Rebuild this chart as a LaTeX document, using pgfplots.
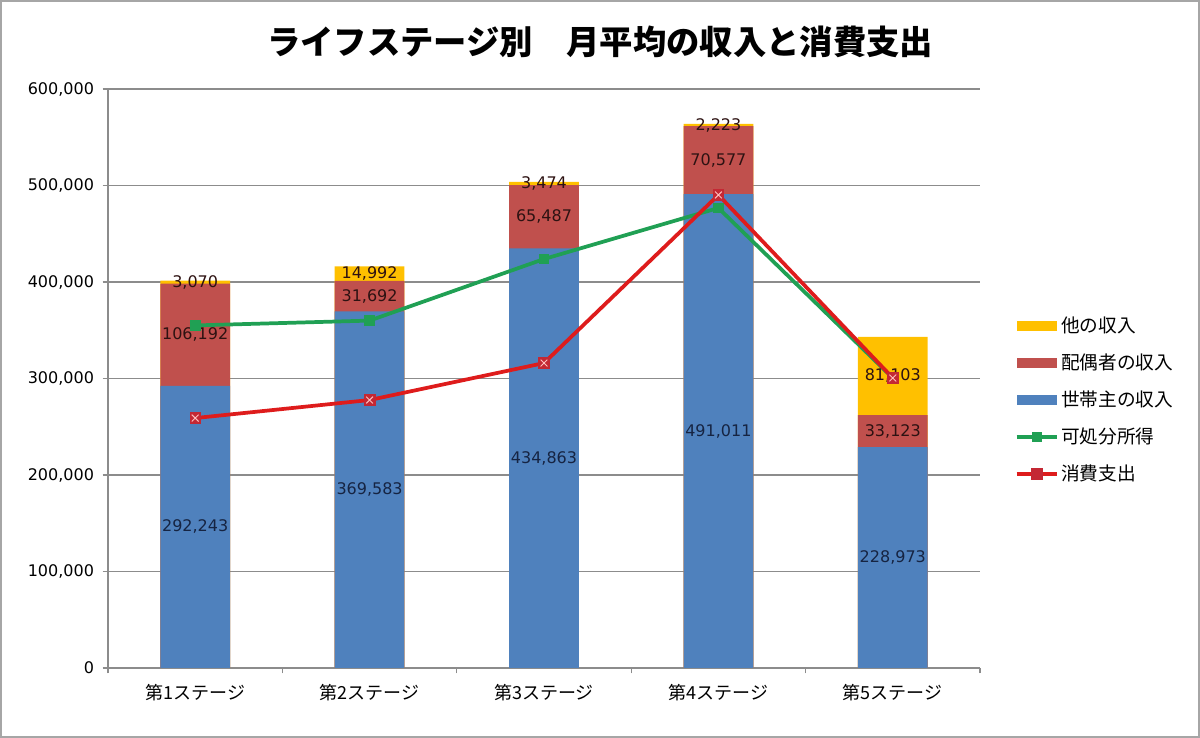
\documentclass[border=0pt]{standalone}
\usepackage{fontspec}
\setmainfont{DejaVu Sans}
\newfontfamily\jp{Noto Sans CJK JP}
\usepackage{pgfplots}
\usepackage{pgfplotstable}
\pgfplotsset{compat=1.18}
\definecolor{yfill}{HTML}{FFC000}
\definecolor{rfill}{HTML}{C0504D}
\definecolor{bfill}{HTML}{4F81BD}
\definecolor{gline}{RGB}{32,160,84}
\definecolor{rline}{RGB}{222,28,28}
\definecolor{rmark}{RGB}{196,40,52}
\definecolor{gridgray}{HTML}{8C8C8C}
\definecolor{navytxt}{RGB}{22,36,66}
\definecolor{darktxt}{RGB}{45,18,18}

\pgfplotstableread{
stage hh sp ot disp cons hhl spl otl
0 292243 106192 3070 355000 259000 292,243 106,192 3,070
1 369583 31692 14992 360000 277700 369,583 31,692 14,992
2 434863 65487 3474 423800 316000 434,863 65,487 3,474
3 491011 70577 2223 476700 490200 491,011 70,577 2,223
4 228973 33123 81103 300500 300500 228,973 33,123 81,103
}\data

\begin{document}
\begin{tikzpicture}
\useasboundingbox (0,0) rectangle (900pt,553.5pt);
\draw[gray!70, line width=1.2pt] (0.8pt,0.8pt) rectangle (899.2pt,552.7pt);
\node[font=\jp\bfseries\fontsize{25}{30}\selectfont] at (450pt,522pt) {ライフステージ別　月平均の収入と消費支出};
\begin{axis}[
  at={(81pt,52.5pt)}, anchor=south west,
  scale only axis, width=654pt, height=434.25pt,
  xmin=-0.5, xmax=4.5, ymin=0, ymax=600000,
  clip=false,
  axis lines*=left,
  axis line style={draw=gridgray, line width=0.8pt},
  ytick={0,100000,...,600000},
  ymajorgrids, grid style={draw=gridgray, line width=0.8pt},
  xtick={0,1,2,3,4},
  xticklabels={第1ステージ,第2ステージ,第3ステージ,第4ステージ,第5ステージ},
  minor xtick={-0.5,0.5,1.5,2.5,3.5,4.5},
  tick align=outside,
  major tick length=4pt, minor tick length=4pt,
  tick style={draw=gridgray, line width=0.8pt},
  major x tick style={draw=none},
  scaled y ticks=false,
  yticklabel style={font=\fontsize{12}{14}\selectfont, xshift=-3pt},
  xticklabel style={font=\jp\fontsize{13.5}{16}\selectfont, yshift=-5pt},
  /pgf/number format/fixed,
  /pgf/number format/precision=0,
  /pgf/number format/1000 sep={,},
  /pgf/number format/assume math mode=true,
  legend style={at={(1.035,0.463)}, anchor=west, draw=none, fill=none,
    font=\jp\fontsize{14}{16}\selectfont, row sep=10.5pt},
  legend cell align=left,
]
% stacked bars drawn as cumulative overlays
\addplot[forget plot, ybar, bar width=0.4, bar shift=0pt, fill=yfill, draw=none]
  table[x=stage, y expr=\thisrow{hh}+\thisrow{sp}+\thisrow{ot}] {\data};
\addplot[forget plot, ybar, bar width=0.4, bar shift=0pt, fill=rfill, draw=none]
  table[x=stage, y expr=\thisrow{hh}+\thisrow{sp}] {\data};
\addplot[forget plot, ybar, bar width=0.4, bar shift=0pt, fill=bfill, draw=none]
  table[x=stage, y=hh] {\data};
% data labels
\addplot[forget plot, draw=none, mark=none, point meta=explicit symbolic,
  nodes near coords={\pgfplotspointmeta},
  every node near coord/.append style={anchor=center, font=\fontsize{12}{14}\selectfont, text=navytxt}]
  table[x=stage, y expr=0.5*\thisrow{hh}, meta=hhl] {\data};
\addplot[forget plot, draw=none, mark=none, point meta=explicit symbolic,
  nodes near coords={\pgfplotspointmeta},
  every node near coord/.append style={anchor=center, font=\fontsize{12}{14}\selectfont, text=darktxt}]
  table[x=stage, y expr=\thisrow{hh}+0.5*\thisrow{sp}, meta=spl] {\data};
\addplot[forget plot, draw=none, mark=none, point meta=explicit symbolic,
  nodes near coords={\pgfplotspointmeta},
  every node near coord/.append style={anchor=center, font=\fontsize{12}{14}\selectfont, text=darktxt}]
  table[x=stage, y expr=\thisrow{hh}+\thisrow{sp}+0.5*\thisrow{ot}, meta=otl] {\data};
% lines
\addplot[forget plot, sharp plot, draw=gline, line width=2.8pt, mark=square*,
  mark size=3.6pt, mark options={fill=gline, draw=gline, line width=0.5pt}]
  table[x=stage, y=disp] {\data};
\addplot[forget plot, sharp plot, draw=rline, line width=2.8pt, mark=square*,
  mark size=4pt, mark options={fill=rmark, draw=rmark, line width=0.5pt}]
  table[x=stage, y=cons] {\data};
\addplot[forget plot, only marks, mark=x, mark size=3.6pt,
  mark options={draw=white!75!red, line width=0.7pt}]
  table[x=stage, y=cons] {\data};
% legend
\addlegendimage{fill=yfill, draw=none, legend image code/.code={\fill (0pt,-4pt) rectangle (30pt,4pt);}}
\addlegendentry{他の収入}
\addlegendimage{fill=rfill, draw=none, legend image code/.code={\fill (0pt,-4pt) rectangle (30pt,4pt);}}
\addlegendentry{配偶者の収入}
\addlegendimage{fill=bfill, draw=none, legend image code/.code={\fill (0pt,-4pt) rectangle (30pt,4pt);}}
\addlegendentry{世帯主の収入}
\addlegendimage{draw=gline, line width=2.8pt, mark=square*, mark size=3.6pt,
  mark options={fill=gline, draw=gline, line width=0.5pt},
  legend image code/.code={\draw[mark repeat=2, mark phase=2] plot coordinates {(0pt,0pt) (15pt,0pt) (30pt,0pt)};}}
\addlegendentry{可処分所得}
\addlegendimage{draw=rline, line width=2.8pt, mark=square*, mark size=4pt,
  mark options={fill=rmark, draw=rmark, line width=0.5pt},
  legend image code/.code={\draw[mark repeat=2, mark phase=2] plot coordinates {(0pt,0pt) (15pt,0pt) (30pt,0pt)};}}
\addlegendentry{消費支出}
\end{axis}
\end{tikzpicture}
\end{document}
